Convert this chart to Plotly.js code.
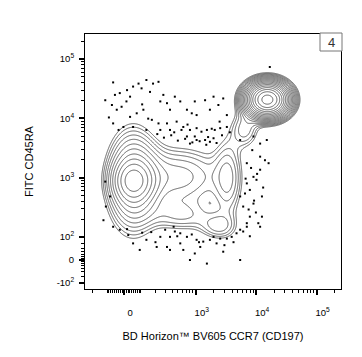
<!DOCTYPE html>
<html><head><meta charset="utf-8">
<script src="https://cdn.plot.ly/plotly-3.0.1.min.js"></script>
<style>html,body{margin:0;padding:0;background:#fff}#chart{width:362px;height:357px}</style>
</head><body><div id="chart"></div>
<script>
// ---- axis tick values (linear fluorescence units) ----
const ccr7MajorTicks = [0, 1e3, 1e4, 1e5];
const ccr7MajorLabels = ['0', '10<sup>3</sup>', '10<sup>4</sup>', '10<sup>5</sup>'];
const cd45raMajorTicks = [-100, 0, 100, 1e3, 1e4, 1e5];
const cd45raMajorLabels = ['-10<sup>2</sup>', '0', '10<sup>2</sup>', '10<sup>3</sup>', '10<sup>4</sup>', '10<sup>5</sup>'];

// ---- populations (positions/spreads in display decades, peak in contour steps) ----
const popName     = ['CCR7- CD45RA+ core', 'CCR7- CD45RA+ wide', 'CCR7- arm', 'CCR7 mid column', 'CCR7 mid CD45RA low', 'low bridge', 'column to naive', 'CCR7+ CD45RA+'];
const popCCR7     = [0.15, 0.15, 0.90, 1.72, 1.56, 0.95, 2.00, 2.37];
const popCD45RA   = [1.33, 1.33, 1.40, 1.38, 0.56, 0.74, 2.20, 2.70];
const popSpreadX  = [0.20, 0.25, 0.50, 0.15, 0.20, 0.35, 0.15, 0.19];
const popSpreadY  = [0.20, 0.50, 0.33, 0.45, 0.15, 0.18, 0.20, 0.16];
const popPeak     = [6.9, 8.0, 4.5, 3.5, 2.8, 2.5, 3.5, 17.5];

// ---- outlier events (display decades) ----
const outlierCCR7 = [-0.18,-0.07,-0.31,-0.20,-0.12,-0.04,0.04,0.10,0.15,0.24,0.29,0.37,0.43,0.48,0.57,0.60,0.65,0.71,0.76,0.84,0.93,1.04,1.12,1.17,1.20,1.34,1.42,1.48,1.56,1.64,1.70,0.10,0.21,0.32,0.46,0.57,0.71,0.87,0.98,1.09,1.20,1.28,1.37,1.45,1.50,1.59,1.70,-0.18,-0.09,-0.01,0.15,0.37,0.60,0.76,0.95,1.04,1.17,1.20,1.34,1.42,1.48,1.09,
 0.55,0.66,0.78,0.89,1.01,1.13,1.25,1.36,1.53,1.62,1.75,0.40,0.30,0.05,-0.25,-0.15,0.83,1.05,1.39,1.58,
 -0.18,-0.07,0.07,0.15,0.26,0.37,0.54,0.68,0.76,0.84,0.93,0.98,1.09,1.17,1.26,1.37,1.42,1.53,1.59,1.70,1.78,1.86,1.92,1.97,2.03,1.92,1.64,0.71,0.60,0.82,0.93,1.04,1.20,1.31,1.48,0.76,
 0.45,0.52,0.88,1.12,1.24,1.66,1.81,2.08,0.30,0.05,
 1.92,2.14,2.25,2.36,2.39,2.25,2.14,2.03,2.08,2.19,2.28,2.14,1.97,2.08,2.03,2.25,2.28,1.92,2.00,2.41,2.33,2.03,2.25,
 2.12,2.20,2.30,2.06,2.18,2.10,2.22,2.01,2.15,
 -0.34,-0.31,-0.23,-0.30];
const outlierCD45RA = [2.99,2.81,2.69,2.61,2.53,2.58,2.67,2.75,2.92,2.97,2.89,3.03,2.83,2.97,3.00,2.67,2.78,2.64,2.53,2.75,2.67,2.53,2.47,2.67,2.44,2.69,2.53,2.75,2.61,2.72,2.44,2.41,2.47,2.53,2.36,2.30,2.30,2.33,2.24,2.19,2.22,2.16,2.19,2.21,2.19,2.22,2.24,2.30,2.19,2.24,2.24,2.19,2.19,2.19,2.19,2.08,2.08,2.02,2.02,1.99,2.05,1.96,
 2.12,2.06,2.10,2.01,2.04,1.98,2.00,1.94,1.97,2.10,2.15,2.38,2.62,2.86,2.40,2.78,2.15,2.28,2.07,2.33,
 0.56,0.51,0.42,0.28,0.17,0.34,0.22,0.51,0.39,0.48,0.28,0.17,0.00,0.11,0.22,-0.06,0.34,0.28,0.36,0.36,0.39,0.45,0.51,0.48,0.56,0.00,0.14,0.22,0.39,0.56,0.45,0.39,0.34,0.31,0.39,0.17,
 0.47,0.30,0.40,0.43,0.30,0.25,0.30,0.40,0.46,0.52,
 2.02,2.08,1.96,2.02,1.63,1.52,1.40,1.29,1.18,1.35,1.07,0.95,0.90,0.73,0.62,0.56,0.73,1.07,1.12,3.25,1.68,1.63,1.74,
 1.85,1.45,1.22,0.85,0.80,1.55,0.62,1.37,1.00,
 0.67,1.32,1.07,0.90];

// ---- display transforms ----
function tx(v){ return Math.asinh(v/131)/Math.LN10; }
function ty(v){ const a=Math.abs(v), s=Math.sign(v); if(a<100) return s*0.385*Math.pow(a/100,2.9); return s*(0.385+Math.log10(a/100)); }

function minorList(f, lo, hi){
  const out=[];
  [10,100,1000,10000,100000].forEach(b=>{ for(let m=1;m<=9;m++){ if(m===1 && b>=100) continue; const v=m*b; out.push(f(v)); out.push(f(-v)); } });
  return out.filter(p=>p>lo && p<hi);
}

const xRange=[-0.645, 3.587], yRange=[-0.488, 3.805];
const STEP=0.1;
const gx=[], gy=[];
for(let x=xRange[0]; x<=xRange[1]+1e-9; x+=0.02) gx.push(+x.toFixed(3));
for(let y=yRange[0]; y<=yRange[1]+1e-9; y+=0.02) gy.push(+y.toFixed(3));
const gz = gy.map(y => gx.map(x => {
  let d=0;
  for(let i=0;i<popCCR7.length;i++){
    const dx=(x-popCCR7[i])/popSpreadX[i], dy=(y-popCD45RA[i])/popSpreadY[i];
    d += Math.pow(10, popPeak[i]*STEP) * Math.exp(-0.5*(dx*dx+dy*dy));
  }
  return Math.log10(d+1e-12);
}));

const traces=[
 {type:'contour', x:gx, y:gy, z:gz, showscale:false, hoverinfo:'skip',
  contours:{coloring:'none', start:0, end:2.0, size:STEP},
  line:{color:'#5e5e5e', width:1, smoothing:0.6}},
 {type:'scatter', mode:'markers', x:outlierCCR7, y:outlierCD45RA,
  marker:{color:'#000', size:2, symbol:'square', line:{width:0}}, hoverinfo:'skip'}
];

const font='"Liberation Sans", Arial, sans-serif';
const layout={
  width:362, height:357, autosize:false,
  margin:{l:85, r:21, t:34, b:68, pad:0},
  paper_bgcolor:'#fff', plot_bgcolor:'#fff', showlegend:false,
  font:{family:font, color:'#000', size:9},
  xaxis:{range:xRange, showgrid:false, zeroline:false, showline:true, mirror:true, linecolor:'#000', linewidth:1,
    tickmode:'array', tickvals:ccr7MajorTicks.map(tx), ticktext:ccr7MajorLabels,
    ticks:'outside', ticklen:5, tickwidth:2, tickcolor:'#000', ticklabelstandoff:10, ticklabelshift:6,
    tickfont:{family:font, size:9.5, color:'#000'},
    minor:{tickmode:'array', tickvals:minorList(tx,xRange[0],xRange[1]), ticks:'outside', ticklen:3, tickwidth:1, tickcolor:'#000'},
    title:{text:'BD Horizon™ BV605 CCR7 (CD197)', font:{family:font, size:11, color:'#000'}, standoff:14}},
  yaxis:{range:yRange, showgrid:false, zeroline:false, showline:true, mirror:true, linecolor:'#000', linewidth:1,
    tickmode:'array', tickvals:cd45raMajorTicks.map(ty), ticktext:cd45raMajorLabels,
    ticks:'outside', ticklen:5, tickwidth:2, tickcolor:'#000', ticklabelstandoff:3,
    tickfont:{family:font, size:9.5, color:'#000'},
    minor:{tickmode:'array', tickvals:minorList(ty,yRange[0],yRange[1]), ticks:'outside', ticklen:3.5, tickwidth:1, tickcolor:'#000'},
    title:{text:'FITC CD45RA', font:{family:font, size:11, color:'#000'}, standoff:20}},
  shapes:[{type:'rect', xref:'paper', yref:'paper', x0:(320-85)/256, x1:(342-85)/256, y0:(289-51)/255, y1:(289-33)/255,
    line:{color:'#777', width:1}, fillcolor:'#fff', layer:'above'}],
  annotations:[{xref:'paper', yref:'paper', x:(331-85)/256, y:(289-42)/255, text:'4', showarrow:false,
    font:{family:font, size:13, color:'#333'}, xanchor:'center', yanchor:'middle'}]
};
Plotly.newPlot('chart', traces, layout, {staticPlot:true, displayModeBar:false});
</script></body></html>
